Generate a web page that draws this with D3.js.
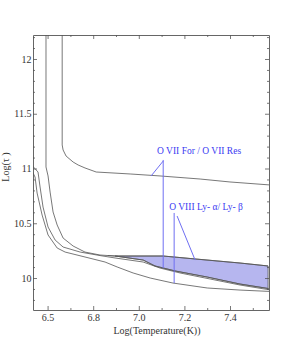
<!DOCTYPE html>
<html>
<head>
<meta charset="utf-8">
<script src="https://cdn.jsdelivr.net/npm/d3@7"></script>
<style>
  body { margin: 0; background: #fff; }
  text { font-family: "Liberation Serif", "Times New Roman", serif; }
</style>
</head>
<body>
<div id="chart"></div>
<script>
// Contour curves, [log T, log tau]
const oviiUpper = [[6.664, 12.3], [6.664, 11.215], [6.668, 11.169], [6.681, 11.114], [6.712, 11.059],
  [6.734, 11.032], [6.764, 11.005], [6.813, 10.968], [6.962, 10.950], [7.093, 10.932],
  [7.269, 10.904], [7.400, 10.877], [7.58, 10.849]];
const oviiLower = [[6.593, 12.3], [6.593, 11.014], [6.602, 10.932], [6.611, 10.785], [6.624, 10.603],
  [6.642, 10.484], [6.668, 10.365], [6.712, 10.292], [6.764, 10.237], [6.830, 10.210],
  [6.896, 10.201], [7.019, 10.164], [7.071, 10.110], [7.160, 10.064], [7.300, 10.009],
  [7.444, 9.945], [7.58, 9.900]];
const oviiiUpper = [[6.530, 11.032], [6.558, 10.968], [6.567, 10.831], [6.580, 10.648], [6.602, 10.466],
  [6.633, 10.347], [6.668, 10.283], [6.743, 10.237], [6.830, 10.205], [6.896, 10.183],
  [7.019, 10.146], [7.093, 10.091], [7.181, 10.046], [7.313, 9.991], [7.444, 9.936], [7.58, 9.890]];
const oviiiLower = [[6.530, 10.986], [6.545, 10.922], [6.554, 10.776], [6.576, 10.575], [6.602, 10.393],
  [6.642, 10.274], [6.677, 10.237], [6.764, 10.192], [6.852, 10.146], [6.905, 10.101],
  [6.975, 10.046], [7.050, 10.000], [7.150, 9.954], [7.300, 9.909], [7.444, 9.890], [7.58, 9.877]];
// top edge of the shaded (allowed) region
const shadeTop = [[6.865, 10.205], [6.896, 10.201], [7.107, 10.201], [7.247, 10.174], [7.444, 10.137], [7.567, 10.110]];
const shadeRightX = 7.567;

// annotations
const labels = ["O VII For / O VII Res", "O VIII Ly- \u03b1/ Ly- \u03b2"];
const labelAt = [[7.080, 11.132], [7.133, 10.621]];
const pointers = [
  [[7.107, 11.078], [7.107, 10.091]],
  [[7.107, 11.068], [7.054, 10.932]],
  [[7.155, 10.594], [7.155, 9.954]],
  [[7.168, 10.566], [7.247, 10.164]]
];

// axes
const xTicks = [6.6, 6.8, 7.0, 7.2, 7.4];
const xTickLabels = ["6.5", "6.8", "7.0", "7.2", "7.4"];
const yTicks = [10, 10.5, 11, 11.5, 12];
const yTickLabels = ["10", "10.5", "11", "11.5", "12"];
const xDomain = [6.536, 7.571];
const yDomain = [9.708, 12.219];

const W = 291, H = 346;
const margin = { top: 35, right: 22, bottom: 36, left: 33 };
const width = W - margin.left - margin.right,
  height = H - margin.top - margin.bottom;

const svg = d3.select("#chart").append("svg")
  .attr("width", W)
  .attr("height", H);
const g = svg.append("g")
  .attr("transform", "translate(" + margin.left + "," + margin.top + ")");

const x = d3.scaleLinear().domain(xDomain).range([0, width]);
const y = d3.scaleLinear().domain(yDomain).range([height, 0]);

svg.append("defs").append("clipPath").attr("id", "plotclip")
  .append("rect").attr("width", width).attr("height", height);

const plot = g.append("g").attr("clip-path", "url(#plotclip)");
const line = d3.line().x(d => x(d[0])).y(d => y(d[1]));

// shaded region: top edge, right edge, back along lower O VII curve
const lowerPart = oviiLower.filter(d => d[0] >= shadeTop[1][0] && d[0] < shadeRightX);
const shadePoly = shadeTop.slice(1)
  .concat([[shadeRightX, y.invert(y(oviiLower[oviiLower.length - 1][1]) - 0.5)]])
  .concat(lowerPart.slice().reverse());
plot.append("path")
  .attr("d", line(shadePoly) + "Z")
  .attr("fill", "#b6b6ef")
  .attr("stroke", "#555")
  .attr("stroke-width", 0.8);
plot.append("path")
  .attr("d", line(shadeTop))
  .attr("fill", "none")
  .attr("stroke", "#555")
  .attr("stroke-width", 0.8);

[oviiUpper, oviiLower, oviiiUpper, oviiiLower].forEach(c => {
  plot.append("path")
    .attr("d", line(c))
    .attr("fill", "none")
    .attr("stroke", "#555")
    .attr("stroke-width", 0.8);
});

// pointer lines
g.selectAll(".pointer")
  .data(pointers)
  .enter().append("line")
  .attr("class", "pointer")
  .attr("x1", d => x(d[0][0])).attr("y1", d => y(d[0][1]))
  .attr("x2", d => x(d[1][0])).attr("y2", d => y(d[1][1]))
  .attr("stroke", "#6f6ff2")
  .attr("stroke-width", 1);

g.selectAll(".annot")
  .data(labels)
  .enter().append("text")
  .attr("class", "annot")
  .attr("x", (d, i) => x(labelAt[i][0]))
  .attr("y", (d, i) => y(labelAt[i][1]))
  .attr("fill", "#3a3af2")
  .style("font-size", "9.5px")
  .text(d => d);

// axes with inward ticks
function minorTicks(dom, step) {
  const out = [];
  for (let v = Math.ceil(dom[0] / step) * step; v <= dom[1] + 1e-9; v += step) out.push(+v.toFixed(2));
  return out;
}
const xMinor = minorTicks(xDomain, 0.1).filter(v => !xTicks.includes(v));
const yMinor = minorTicks(yDomain, 0.1).filter(v => !yTicks.includes(v));

function styleAxis(sel) {
  sel.selectAll("path").attr("stroke", "#555").attr("stroke-width", 0.9);
  sel.selectAll("line").attr("stroke", "#555").attr("stroke-width", 0.8);
  sel.selectAll("text").attr("fill", "#333").style("font-size", "10px")
    .style("font-family", "'Liberation Serif', serif");
}

const bottomAxis = g.append("g").attr("transform", "translate(0," + height + ")");
bottomAxis.call(d3.axisBottom(x).tickValues(xTicks).tickSize(-4).tickSizeOuter(0).tickPadding(4)
  .tickFormat((d, i) => xTickLabels[i]));
bottomAxis.append("g").call(d3.axisBottom(x).tickValues(xMinor).tickSize(-2).tickSizeOuter(0).tickFormat(""))
  .select(".domain").remove();
styleAxis(bottomAxis);

const topAxis = g.append("g");
topAxis.call(d3.axisTop(x).tickValues(xTicks).tickSize(-4).tickSizeOuter(0).tickFormat(""));
topAxis.append("g").call(d3.axisTop(x).tickValues(xMinor).tickSize(-2).tickSizeOuter(0).tickFormat(""))
  .select(".domain").remove();
styleAxis(topAxis);

const leftAxis = g.append("g");
leftAxis.call(d3.axisLeft(y).tickValues(yTicks).tickSize(-4).tickSizeOuter(0).tickPadding(1.5)
  .tickFormat((d, i) => yTickLabels[i]));
leftAxis.append("g").call(d3.axisLeft(y).tickValues(yMinor).tickSize(-2).tickSizeOuter(0).tickFormat(""))
  .select(".domain").remove();
styleAxis(leftAxis);

const rightAxis = g.append("g").attr("transform", "translate(" + width + ",0)");
rightAxis.call(d3.axisRight(y).tickValues(yTicks).tickSize(-4).tickSizeOuter(0).tickFormat(""));
rightAxis.append("g").call(d3.axisRight(y).tickValues(yMinor).tickSize(-2).tickSizeOuter(0).tickFormat(""))
  .select(".domain").remove();
styleAxis(rightAxis);

// axis titles
svg.append("text")
  .attr("x", margin.left + width / 2 + 6)
  .attr("y", 334)
  .attr("text-anchor", "middle")
  .attr("fill", "#333")
  .style("font-size", "10px")
  .text("Log(Temperature(K))");

svg.append("text")
  .attr("transform", "translate(9,167) rotate(-90)")
  .attr("text-anchor", "middle")
  .attr("fill", "#333")
  .style("font-size", "10px")
  .text("Log(\u03c4 )");
</script>
</body>
</html>
